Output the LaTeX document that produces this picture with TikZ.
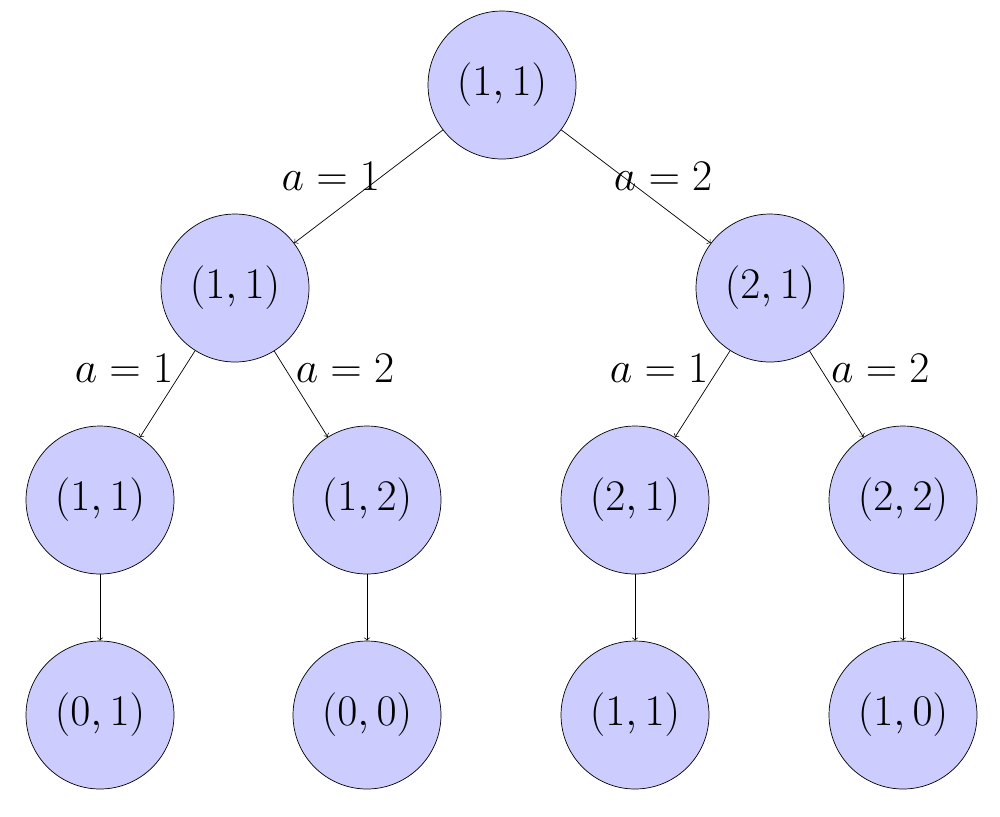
\documentclass[tikz,border=0pt]{standalone}
\begin{document}
\begin{tikzpicture}[x=0.02cm,y=-0.02cm,
  st/.style={circle,draw,fill=blue!20,minimum size=2.96cm,inner sep=0pt,font=\fontsize{26}{30}\selectfont},
  ar/.style={->,thin},
  lb/.style={font=\fontsize{26}{30}\selectfont,inner sep=2pt}]
\useasboundingbox (0,0) rectangle (1000,816);
\node[st] (r) at (502,85) {$(1,1)$};
\node[st] (a) at (235,288) {$(1,1)$};
\node[st] (b) at (770,288) {$(2,1)$};
\node[st] (c1) at (100,500) {$(1,1)$};
\node[st] (c2) at (367,500) {$(1,2)$};
\node[st] (c3) at (635,500) {$(2,1)$};
\node[st] (c4) at (903,500) {$(2,2)$};
\node[st] (d1) at (100,715) {$(0,1)$};
\node[st] (d2) at (367,715) {$(0,0)$};
\node[st] (d3) at (635,715) {$(1,1)$};
\node[st] (d4) at (903,715) {$(1,0)$};
\draw[ar] (r) -- node[lb,pos=0.35,anchor=east,xshift=-4pt,yshift=-4pt] {$a=1$} (a);
\draw[ar] (r) -- node[lb,pos=0.35,anchor=west,xshift=-2pt,yshift=-4pt] {$a=2$} (b);
\draw[ar] (a) -- node[lb,pos=0.2,anchor=east,xshift=-4pt] {$a=1$} (c1);
\draw[ar] (a) -- node[lb,pos=0.2,anchor=west,xshift=4pt] {$a=2$} (c2);
\draw[ar] (b) -- node[lb,pos=0.2,anchor=east,xshift=-4pt] {$a=1$} (c3);
\draw[ar] (b) -- node[lb,pos=0.2,anchor=west,xshift=4pt] {$a=2$} (c4);
\draw[ar] (c1) -- (d1);
\draw[ar] (c2) -- (d2);
\draw[ar] (c3) -- (d3);
\draw[ar] (c4) -- (d4);
\end{tikzpicture}
\end{document}
